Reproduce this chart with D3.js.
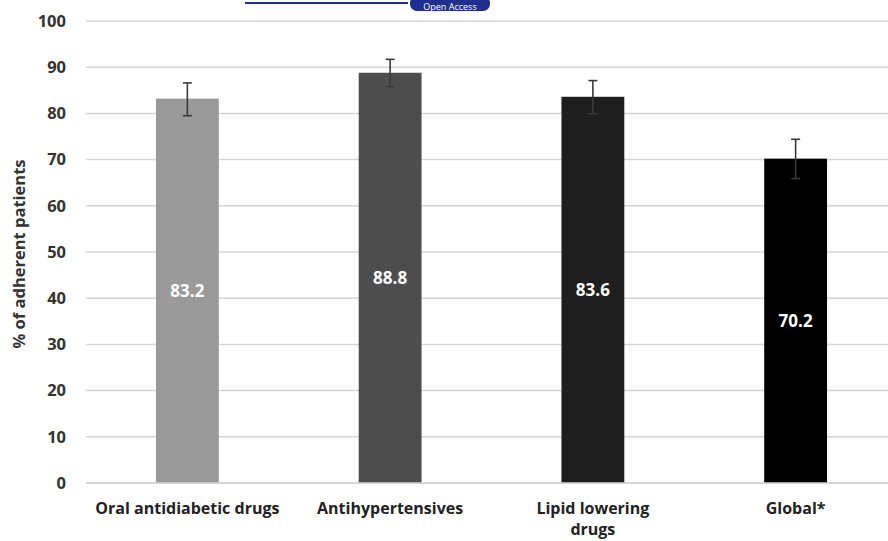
<!DOCTYPE html>
<html><head><meta charset="utf-8">
<script src="https://cdn.jsdelivr.net/npm/d3@7"></script>
<style>html,body{margin:0;padding:0;background:#fff;overflow:hidden}</style>
</head><body>
<svg id="chart" width="888" height="541"></svg>
<script>
const categories = ["Oral antidiabetic drugs", "Antihypertensives", "Lipid lowering drugs", "Global*"];
const values = [83.2, 88.8, 83.6, 70.2];
const errLow = [79.5, 85.8, 79.9, 65.9];
const errHigh = [86.6, 91.7, 87.1, 74.4];
const barColors = ["#9a9a9a", "#4d4d4d", "#1e1e1e", "#000000"];
const yTicks = [0, 10, 20, 30, 40, 50, 60, 70, 80, 90, 100];
const yTitle = "% of adherent patients";

(function () {
const svg = d3.select("#chart");
const font = "'Open Sans', Lato, sans-serif";
const mLeft = 86, mRight = 897, mTop = 21, mBottom = 483;

const x = d3.scaleBand().domain(categories).range([mLeft, mRight]).paddingInner(0.69).paddingOuter(0.345);
const y = d3.scaleLinear().domain([0, 100]).range([mBottom, mTop]);

// Grid lines
svg.append("g").selectAll("line").data(yTicks).join("line")
  .attr("x1", mLeft).attr("x2", 888)
  .attr("y1", d => y(d)).attr("y2", d => y(d))
  .attr("stroke", "#d4d4d4").attr("stroke-width", 1.5);

// Y axis labels
const yAxis = d3.axisLeft(y).tickValues(yTicks).tickSize(0).tickPadding(0).tickFormat(d3.format("d"));
const ya = svg.append("g").attr("transform", `translate(${mLeft - 20},0)`).call(yAxis);
ya.select(".domain").remove();
ya.selectAll("text").attr("font-family", font).attr("font-weight", "bold")
  .attr("font-size", 16.5).attr("fill", "#333");

// Y title
svg.append("text").attr("transform", `translate(25,${(mTop + mBottom) / 2 + 2}) rotate(-90)`)
  .attr("text-anchor", "middle").attr("font-family", font).attr("font-weight", "bold")
  .attr("font-size", 16.5).attr("fill", "#333").text(yTitle);

// Bars
svg.append("g").selectAll("rect").data(categories).join("rect")
  .attr("x", d => x(d)).attr("width", x.bandwidth())
  .attr("y", (d, i) => y(values[i])).attr("height", (d, i) => y(0) - y(values[i]))
  .attr("fill", (d, i) => barColors[i]);

// Baseline
svg.append("line").attr("x1", mLeft).attr("x2", 888).attr("y1", y(0)).attr("y2", y(0))
  .attr("stroke", "#d4d4d4").attr("stroke-width", 1.5);

// Error bars
const eg = svg.append("g").attr("stroke", "#3a3a3a").attr("stroke-width", 1.6);
categories.forEach((c, i) => {
  const cx = x(c) + x.bandwidth() / 2;
  eg.append("line").attr("x1", cx).attr("x2", cx).attr("y1", y(errLow[i])).attr("y2", y(errHigh[i]));
  eg.append("line").attr("x1", cx - 4.5).attr("x2", cx + 4.5).attr("y1", y(errLow[i])).attr("y2", y(errLow[i]));
  eg.append("line").attr("x1", cx - 4.5).attr("x2", cx + 4.5).attr("y1", y(errHigh[i])).attr("y2", y(errHigh[i]));
});

// Value labels
svg.append("g").selectAll("text").data(categories).join("text")
  .attr("x", d => x(d) + x.bandwidth() / 2)
  .attr("y", (d, i) => (y(values[i]) + y(0)) / 2)
  .attr("dy", "0.35em").attr("text-anchor", "middle")
  .attr("font-family", font).attr("font-weight", "bold").attr("font-size", 17)
  .attr("fill", "#fff").text((d, i) => values[i].toFixed(1));

// X labels
const xl = svg.append("g");
categories.forEach(c => {
  const cx = x(c) + x.bandwidth() / 2;
  const lines = c === "Lipid lowering drugs" ? ["Lipid lowering", "drugs"] : [c];
  const t = xl.append("text").attr("text-anchor", "middle").attr("font-family", font)
    .attr("font-weight", "bold").attr("font-size", 16).attr("fill", "#222");
  lines.forEach((l, j) => t.append("tspan").attr("x", cx).attr("y", 514 + j * 21).text(l));
});

// Top banner artifact
svg.append("line").attr("x1", 245).attr("x2", 408).attr("y1", 3).attr("y2", 3)
  .attr("stroke", "#1f2f8f").attr("stroke-width", 1.8);
svg.append("rect").attr("x", 410).attr("y", -4).attr("width", 80).attr("height", 15).attr("rx", 7)
  .attr("fill", "#1f2f8f");
svg.append("text").attr("x", 450).attr("y", 9.5).attr("text-anchor", "middle")
  .attr("font-family", font).attr("font-size", 9).attr("fill", "#fff").text("Open Access");
})();
</script>
</body></html>
